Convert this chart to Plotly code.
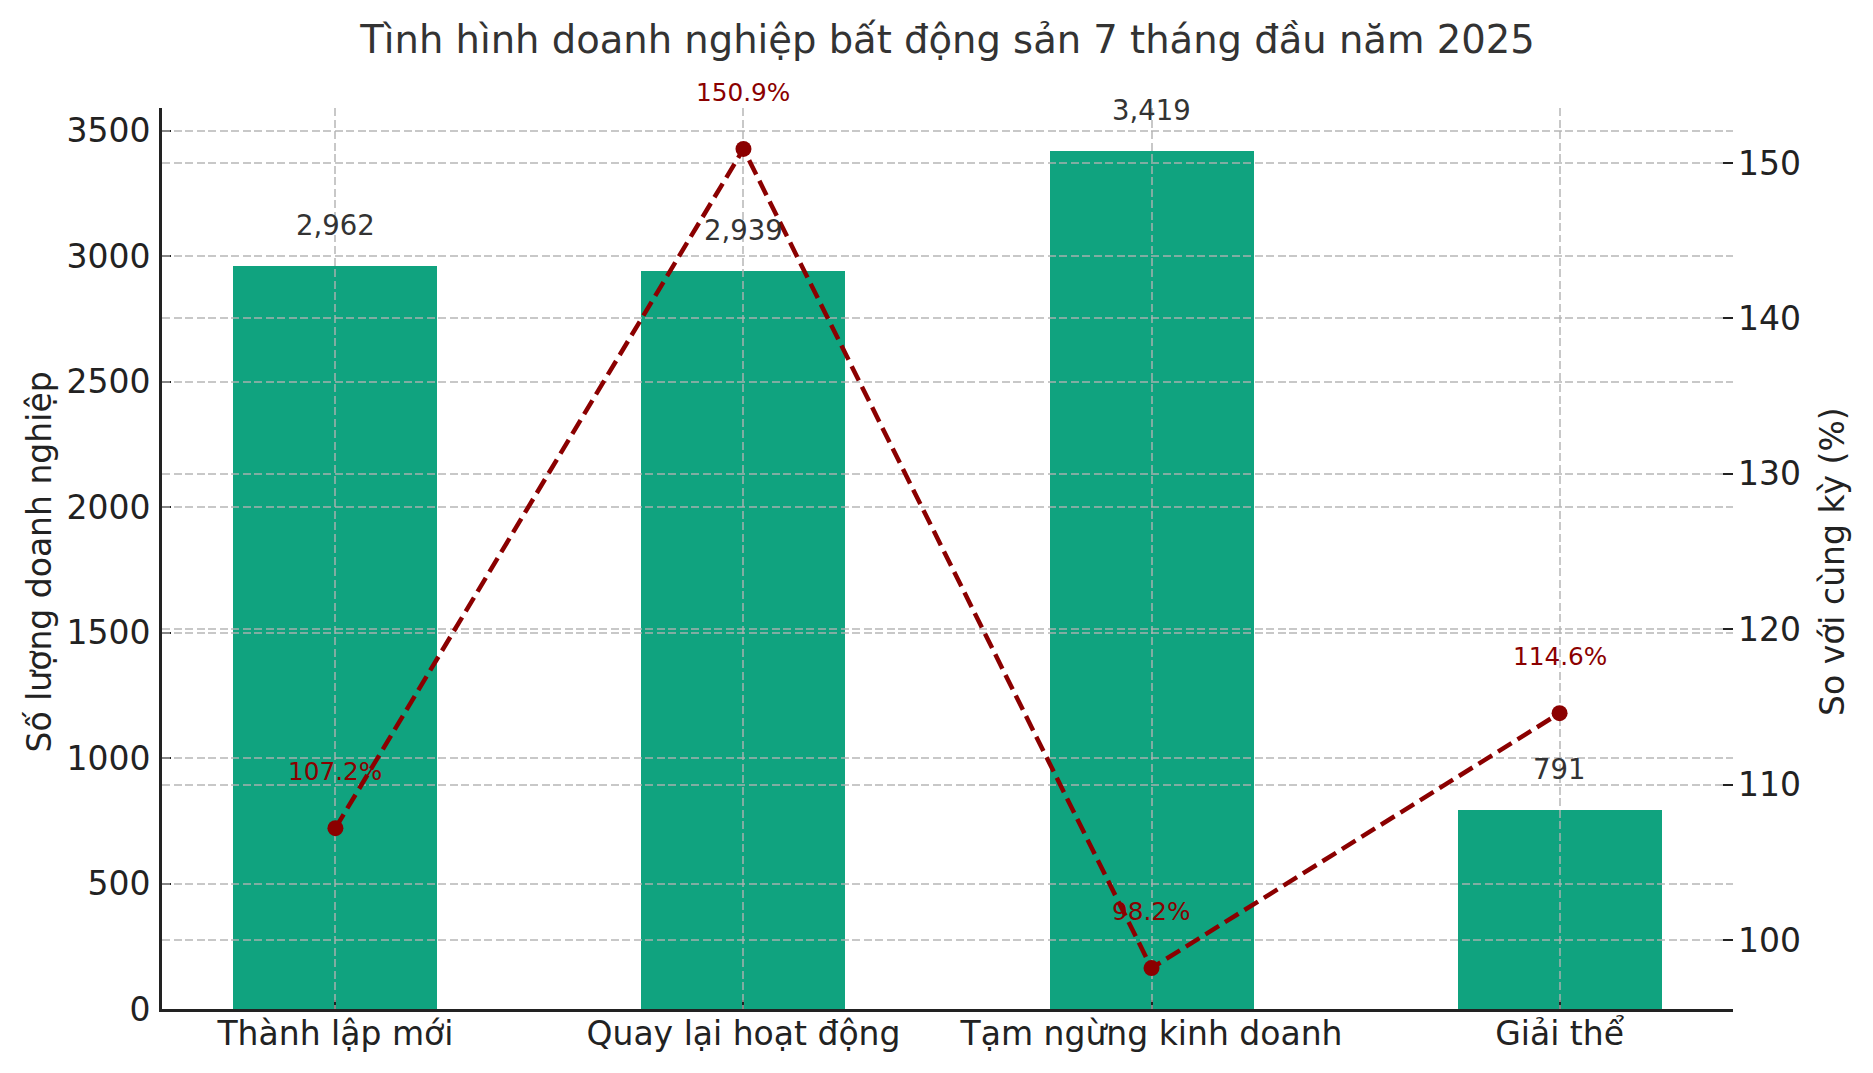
import plotly.graph_objects as go

# === Data ===
categories = ["Thành lập mới", "Quay lại hoạt động", "Tạm ngừng kinh doanh", "Giải thể"]
counts = [2962, 2939, 3419, 791]
yoy_pct = [107.2, 150.9, 98.2, 114.6]

title_text = "Tình hình doanh nghiệp bất động sản 7 tháng đầu năm 2025"
left_label = "Số lượng doanh nghiệp"
right_label = "So với cùng kỳ (%)"

# === Styles ===
FONT = "DejaVu Sans"
BAR_COLOR = "#10a37f"
LINE_COLOR = "#8b0000"
GRID_COLOR = "rgba(176,176,176,0.7)"
GRID_DASH = "8px,3.5px"
AXIS_COLOR = "#222222"

# page body has an 8px margin, so the figure is drawn 8px smaller
W, H = 1865, 1065

# matplotlib-style autoscale margins (5%)
y_max = max(counts) * 1.05
p_span = max(yoy_pct) - min(yoy_pct)
p_range = [min(yoy_pct) - 0.05 * p_span, max(yoy_pct) + 0.05 * p_span]
x_range = [-0.25 - 0.175, len(categories) - 1 + 0.25 + 0.175]

fig = go.Figure()

# bars on the base subplot
fig.add_trace(go.Bar(
    x=categories, y=counts, width=0.5,
    marker=dict(color=BAR_COLOR, line=dict(width=0)),
    xaxis="x", yaxis="y", showlegend=False,
    hovertemplate="%{x}: %{y:,}<extra></extra>",
))

# empty trace so the grid subplot exists (its grid is drawn above the bars)
fig.add_trace(go.Scatter(x=[], y=[], xaxis="x2", yaxis="y2",
                         showlegend=False, hoverinfo="skip"))

# yoy line on the right axis
fig.add_trace(go.Scatter(
    x=categories, y=yoy_pct, mode="lines+markers",
    line=dict(color=LINE_COLOR, width=4.5, dash="16px,7px"),
    marker=dict(color=LINE_COLOR, size=16),
    xaxis="x2", yaxis="y3", showlegend=False,
    hovertemplate="%{x}: %{y}%<extra></extra>",
))

annotations = []
for c, v in zip(categories, counts):
    annotations.append(dict(
        x=c, y=v, xref="x", yref="y", text=f"{v:,}", showarrow=False,
        xanchor="center", yanchor="bottom", yshift=23,
        font=dict(family=FONT, size=27.5, color="#333333"),
    ))
for c, p in zip(categories, yoy_pct):
    annotations.append(dict(
        x=c, y=p, xref="x2", yref="y3", text=f"{p}%", showarrow=False,
        xanchor="center", yanchor="bottom", yshift=40,
        font=dict(family=FONT, size=24.75, color=LINE_COLOR),
    ))

# axis titles
annotations.append(dict(
    x=0, y=0.5, xref="paper", yref="paper", text=left_label, showarrow=False,
    textangle=-90, xanchor="center", yanchor="middle", xshift=-123.5, yshift=-3.5,
    font=dict(family=FONT, size=33, color=AXIS_COLOR),
))
annotations.append(dict(
    x=1, y=0.5, xref="paper", yref="paper", text=right_label, showarrow=False,
    textangle=-90, xanchor="center", yanchor="middle", xshift=99, yshift=-3.5,
    font=dict(family=FONT, size=33, color=AXIS_COLOR),
))

tick_font = dict(family=FONT, size=33, color=AXIS_COLOR)

fig.update_layout(
    width=W, height=H,
    margin=dict(l=154, r=140, t=100, b=64),
    paper_bgcolor="white",
    plot_bgcolor="rgba(0,0,0,0)",
    title=dict(
        text=title_text, x=0.5, xref="paper", xanchor="center",
        y=1 - 32 / H, yref="container", yanchor="middle",
        font=dict(family=FONT, size=38.5, color="#333333"),
    ),
    xaxis=dict(
        type="category", categoryorder="array", categoryarray=categories,
        range=x_range, anchor="y",
        showgrid=False, zeroline=False,
        showline=True, linecolor=AXIS_COLOR, linewidth=2.7,
        ticks="inside", ticklen=9.6, tickwidth=2.2, tickcolor=AXIS_COLOR,
        tickfont=tick_font, ticklabelstandoff=-6,
    ),
    yaxis=dict(
        range=[0, y_max], dtick=500, anchor="x",
        showgrid=False, zeroline=False,
        showline=True, linecolor=AXIS_COLOR, linewidth=2.7,
        ticks="inside", ticklen=9.6, tickwidth=2.2, tickcolor=AXIS_COLOR,
        tickfont=tick_font, ticklabelstandoff=2,
    ),
    xaxis2=dict(
        type="category", categoryorder="array", categoryarray=categories,
        range=x_range, anchor="y2", matches="x",
        showgrid=True, gridcolor=GRID_COLOR, gridwidth=2, griddash=GRID_DASH,
        zeroline=False, showline=False, ticks="", showticklabels=False,
    ),
    yaxis2=dict(
        range=[0, y_max], dtick=500, anchor="x2",
        showgrid=True, gridcolor=GRID_COLOR, gridwidth=2, griddash=GRID_DASH,
        zeroline=False, showline=False, ticks="", showticklabels=False,
    ),
    yaxis3=dict(
        range=p_range, dtick=10, tick0=100, anchor="x2",
        overlaying="y2", side="right",
        showgrid=True, gridcolor=GRID_COLOR, gridwidth=2, griddash=GRID_DASH,
        zeroline=False, showline=False,
        ticks="inside", ticklen=9.6, tickwidth=2.2, tickcolor=AXIS_COLOR,
        tickfont=tick_font, ticklabelstandoff=4,
    ),
    annotations=annotations,
    bargap=0,
)

fig.write_html("out.html")
